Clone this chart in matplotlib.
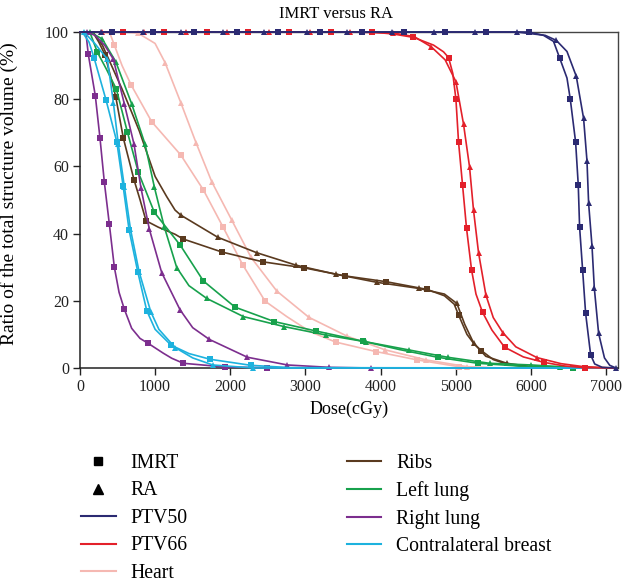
import matplotlib.pyplot as plt
from matplotlib.lines import Line2D

plt.rcParams['font.family'] = ['Liberation Serif', 'DejaVu Serif']

# dose in cGy, volume in %; *_marks are the indices that carry a marker

ptv50_imrt_dose = [0, 422, 977, 1522, 2086, 2641, 3196, 3750, 4307, 4851, 5406, 5970,
                   6169, 6302, 6383, 6481, 6525, 6596, 6631, 6649, 6689, 6729, 6796, 6850, 6950, 7133]
ptv50_imrt_vol = [100, 100, 100, 100, 100, 100, 100, 100, 100, 100, 100, 100,
                  99.0, 97.2, 92.3, 86.3, 80.0, 67.2, 54.5, 41.9, 29.2, 16.3, 3.9, 1.2, 0.2, 0]
ptv50_imrt_marks = [1, 2, 3, 4, 5, 6, 7, 8, 9, 10, 11, 14, 16, 17, 18, 19, 20, 21, 22]

ptv50_ra_dose = [0, 280, 835, 1345, 1909, 2450, 3019, 3560, 4152, 4707, 5260, 5810,
                 6192, 6339, 6481, 6605, 6702, 6747, 6769, 6814, 6845, 6902, 6980, 7050, 7133]
ptv50_ra_vol = [100, 100, 100, 100, 100, 100, 100, 100, 100, 100, 100, 100,
                99.0, 97.5, 94.2, 86.8, 74.3, 61.7, 49.0, 36.3, 23.7, 10.3, 3.0, 0.8, 0]
ptv50_ra_marks = [1, 2, 3, 4, 5, 6, 7, 8, 9, 10, 11, 13, 15, 16, 17, 18, 19, 20, 21, 24]

ptv66_imrt_dose = [0, 577, 1123, 1687, 2233, 2787, 3343, 3884, 4172, 4438, 4705, 4838, 4905,
                   4961, 5003, 5038, 5091, 5144, 5211, 5270, 5357, 5482, 5650, 5900, 6169, 6450, 6715, 7100]
ptv66_imrt_vol = [100, 100, 100, 100, 100, 100, 100, 100, 99.4, 98.4, 96.1, 94.1, 92.4,
                  87.7, 80.0, 67.2, 54.5, 41.6, 29.2, 22.0, 16.6, 11.3, 6.2, 3.3, 1.7, 0.6, 0.1, 0]
ptv66_imrt_marks = [1, 2, 3, 4, 5, 6, 7, 9, 12, 14, 15, 16, 17, 18, 20, 22, 24, 26]

ptv66_ra_dose = [0, 289, 850, 1407, 1962, 2521, 3063, 3595, 4172, 4450, 4674, 4860, 5003,
                 5104, 5184, 5237, 5304, 5402, 5500, 5628, 5800, 6081, 6400, 6700, 7100]
ptv66_ra_vol = [100, 100, 100, 100, 100, 100, 100, 100, 99.7, 98.6, 95.6, 91.7, 85.2,
                72.6, 59.9, 47.0, 34.3, 21.7, 15.0, 10.5, 6.3, 3.1, 1.3, 0.4, 0]
ptv66_ra_marks = [1, 2, 3, 4, 5, 6, 7, 8, 10, 12, 13, 14, 15, 16, 17, 19, 21]

heart_imrt_dose = [0, 300, 400, 457, 560, 679, 954, 1341, 1642, 1900, 2166, 2463, 2752,
                   3063, 3405, 3937, 4491, 5038, 5500, 7000]
heart_imrt_vol = [100, 100, 99.5, 96.1, 90.0, 84.3, 73.3, 63.4, 53.0, 42.1, 30.7, 19.9, 15.3,
                  10.8, 7.7, 4.9, 2.4, 0.4, 0, 0]
heart_imrt_marks = [3, 5, 6, 7, 8, 9, 10, 11, 14, 15, 16, 17]

heart_ra_dose = [0, 600, 777, 999, 1132, 1341, 1545, 1754, 2020, 2277, 2619, 3045, 3552,
                 4061, 4607, 5149, 5600, 7000]
heart_ra_vol = [100, 100, 99.6, 96.6, 90.9, 79.0, 67.0, 55.4, 44.0, 32.9, 22.9, 15.1, 9.5,
                5.4, 2.4, 0.4, 0, 0]
heart_ra_marks = [2, 4, 5, 6, 7, 8, 9, 10, 11, 12, 13, 14, 15]

ribs_imrt_dose = [0, 170, 250, 333, 475, 577, 719, 800, 879, 1043, 1265, 1372, 1891, 2433,
                  2983, 3529, 4071, 4617, 4850, 4980, 5038, 5150, 5250, 5340, 5500, 5700, 6000, 7000]
ribs_imrt_vol = [100, 100, 97.0, 93.2, 80.8, 68.4, 56.0, 50.0, 43.8, 41.9, 39.8, 38.4, 34.5, 31.6,
                 29.8, 27.4, 25.7, 23.4, 21.5, 19.0, 15.8, 10.0, 7.0, 5.2, 2.5, 1.0, 0.3, 0]
ribs_imrt_marks = [3, 4, 5, 6, 8, 11, 12, 13, 14, 15, 16, 17, 20, 23]

ribs_ra_dose = [0, 170, 300, 420, 560, 690, 790, 860, 1000, 1154, 1265, 1341, 1834, 2353,
                2876, 3405, 3951, 4505, 4850, 5016, 5120, 5237, 5400, 5681, 6000, 7000]
ribs_ra_vol = [100, 100, 96.0, 90.0, 83.0, 76.0, 70.5, 66.0, 57.0, 51.0, 47.0, 45.5, 38.9, 34.3,
               30.6, 27.9, 25.5, 23.7, 22.0, 19.2, 13.0, 7.5, 3.5, 1.4, 0.4, 0]
ribs_ra_marks = [11, 12, 13, 14, 15, 16, 17, 19, 21, 23]

llung_imrt_dose = [0, 130, 231, 350, 484, 630, 777, 990, 1336, 1642, 2064, 2588, 3143, 3760,
                   4250, 4758, 5296, 5900, 6556, 7000]
llung_imrt_vol = [100, 100, 94.0, 89.0, 83.0, 70.3, 58.2, 46.3, 36.5, 25.9, 18.1, 13.8, 11.0, 8.0,
                  5.5, 3.2, 1.4, 0.5, 0.1, 0]
llung_imrt_marks = [2, 4, 5, 6, 7, 8, 9, 10, 11, 12, 13, 15, 16, 18]

llung_ra_dose = [0, 133, 297, 475, 688, 866, 990, 1123, 1287, 1450, 1687, 2175, 2721, 3276,
                 3804, 4372, 4891, 5451, 6006, 6392, 7000]
llung_ra_vol = [100, 100, 97.9, 91.2, 78.6, 66.6, 53.8, 41.9, 29.9, 24.5, 20.7, 15.3, 12.3, 9.8,
                7.8, 5.4, 3.2, 1.4, 0.9, 0.4, 0]
llung_ra_marks = [1, 2, 3, 4, 5, 6, 7, 8, 10, 11, 12, 13, 14, 15, 16, 17, 18, 19]

rlung_imrt_dose = [0, 80, 110, 204, 266, 324, 390, 457, 520, 590, 688, 799, 910, 1109, 1221,
                   1376, 1931, 2490, 3500, 7000]
rlung_imrt_vol = [100, 99.5, 93.4, 81.0, 68.4, 55.3, 42.9, 30.0, 22.5, 17.5, 11.8, 8.8, 7.3, 4.4, 2.9,
                  1.4, 0.3, 0.1, 0, 0]
rlung_imrt_marks = [2, 3, 4, 5, 6, 7, 9, 12, 15, 16, 17]

rlung_ra_dose = [0, 89, 200, 330, 444, 590, 719, 812, 923, 1087, 1332, 1500, 1722, 2228,
                 2761, 3320, 3875, 7000]
rlung_ra_vol = [100, 100, 99.0, 96.0, 91.9, 78.6, 66.6, 53.5, 41.3, 28.4, 17.3, 12.0, 8.5, 3.2,
                0.9, 0.2, 0, 0]
rlung_ra_marks = [1, 4, 5, 6, 7, 8, 9, 10, 12, 13, 14, 15, 16]

breast_imrt_dose = [0, 30, 120, 186, 346, 489, 573, 653, 768, 888, 1000, 1212, 1450, 1731,
                    2273, 2800, 7000]
breast_imrt_vol = [100, 100, 97.0, 92.4, 79.8, 67.4, 54.3, 41.1, 28.7, 17.1, 11.5, 6.8, 4.3, 2.6,
                   0.8, 0.1, 0]
breast_imrt_marks = [3, 4, 5, 6, 7, 8, 9, 11, 13, 14]

breast_ra_dose = [0, 53, 200, 364, 444, 510, 590, 672, 786, 941, 1050, 1265, 1500, 1767, 2308, 7000]
breast_ra_vol = [100, 100, 96.5, 91.9, 79.0, 66.6, 54.0, 41.3, 28.7, 16.8, 11.5, 6.1, 3.0, 0.9, 0, 0]
breast_ra_marks = [1, 3, 4, 5, 6, 7, 8, 9, 11, 13, 14]

structures = ['PTV50', 'PTV66', 'Heart', 'Ribs', 'Left lung', 'Right lung', 'Contralateral breast']
colors = {
    'PTV50': '#2b2a72',
    'PTV66': '#e3202a',
    'Heart': '#f5b8b2',
    'Ribs': '#5a3a1f',
    'Left lung': '#17a14c',
    'Right lung': '#7c2e8e',
    'Contralateral breast': '#1db2de',
}

# drawing order: bottom first
curves = [
    ('Heart', heart_imrt_dose, heart_imrt_vol, heart_imrt_marks, 's'),
    ('Heart', heart_ra_dose, heart_ra_vol, heart_ra_marks, '^'),
    ('Ribs', ribs_imrt_dose, ribs_imrt_vol, ribs_imrt_marks, 's'),
    ('Ribs', ribs_ra_dose, ribs_ra_vol, ribs_ra_marks, '^'),
    ('Left lung', llung_imrt_dose, llung_imrt_vol, llung_imrt_marks, 's'),
    ('Left lung', llung_ra_dose, llung_ra_vol, llung_ra_marks, '^'),
    ('Right lung', rlung_imrt_dose, rlung_imrt_vol, rlung_imrt_marks, 's'),
    ('Right lung', rlung_ra_dose, rlung_ra_vol, rlung_ra_marks, '^'),
    ('Contralateral breast', breast_imrt_dose, breast_imrt_vol, breast_imrt_marks, 's'),
    ('Contralateral breast', breast_ra_dose, breast_ra_vol, breast_ra_marks, '^'),
    ('PTV66', ptv66_imrt_dose, ptv66_imrt_vol, ptv66_imrt_marks, 's'),
    ('PTV66', ptv66_ra_dose, ptv66_ra_vol, ptv66_ra_marks, '^'),
    ('PTV50', ptv50_imrt_dose, ptv50_imrt_vol, ptv50_imrt_marks, 's'),
    ('PTV50', ptv50_ra_dose, ptv50_ra_vol, ptv50_ra_marks, '^'),
]

fig = plt.figure(figsize=(6.25, 5.82), dpi=100)
ax = fig.add_axes([80 / 625, 1 - 368 / 582, 538 / 625, 336 / 582])

for name, dose, vol, marks, mk in curves:
    ms = 4.3 if mk == 's' else 5.0
    ax.plot(dose, vol, color=colors[name], lw=1.2, marker=mk, markersize=ms,
            markevery=marks, markeredgewidth=0, clip_on=False, zorder=3)

ax.set_xlim(0, 7160)
ax.set_ylim(0, 100)
ax.set_xticks(range(0, 7001, 1000))
ax.set_yticks(range(0, 101, 20))
ax.tick_params(direction='out', length=5, width=1, labelsize=11.5, colors='#222222', pad=3)
for side in ['left', 'bottom']:
    ax.spines[side].set_color('#222222')
    ax.spines[side].set_linewidth(1.1)
for side in ['top', 'right']:
    ax.spines[side].set_color('#444444')
    ax.spines[side].set_linewidth(1.0)

ax.set_xlabel('Dose(cGy)', fontsize=13, labelpad=4)
ax.set_ylabel('Ratio of the total structure volume (%)', fontsize=14, labelpad=9)
ax.yaxis.set_label_coords(-0.115, 0.52)
fig.text(336 / 625, 1 - 14 / 582, 'IMRT versus RA', ha='center', va='center', fontsize=12)

handles = [
    Line2D([], [], color='black', marker='s', linestyle='none', markersize=6),
    Line2D([], [], color='black', marker='^', linestyle='none', markersize=6.5),
]
labels = ['IMRT', 'RA']
for name in structures:
    handles.append(Line2D([], [], color=colors[name], lw=1.5))
    labels.append(name)

fig.legend(handles, labels, loc='upper left', bbox_to_anchor=(81 / 625, 1 - 454 / 582),
           ncol=2, frameon=False, fontsize=14.2, handlelength=1.75, handletextpad=0.74,
           columnspacing=8.1, labelspacing=0.43, borderpad=0, borderaxespad=0)

fig.savefig('out.png', dpi=100)
